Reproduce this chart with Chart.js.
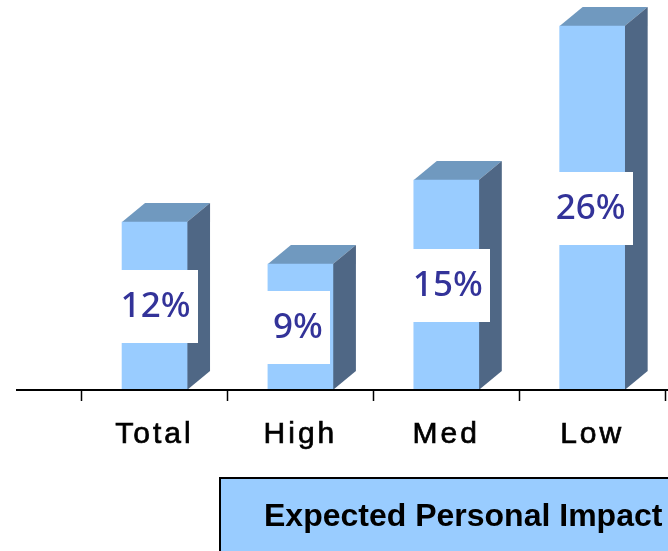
<!DOCTYPE html>
<html>
<head>
<meta charset="utf-8">
<script src="https://cdn.jsdelivr.net/npm/chart.js@4"></script>
<style>
    html, body { margin: 0; padding: 0; background: #fff; overflow: hidden; }
    canvas { display: block; }
</style>
</head>
<body>
<canvas id="impactChart" width="668" height="551"></canvas>
<script>
const categories = ['Total', 'High', 'Med', 'Low'];
const impactValues = [12, 9, 15, 26];
const boxTitle = 'Expected Personal Impact';

const frontColor = '#99ccff';
const topColor = '#7099bf';
const sideColor = '#4f6785';
const depthX = 23;
const depthY = 19;
// the labels don't sit exactly on the bar centres in the original
const labelShift = [1, -2.5, 1.5, -1.5];

function polygon(ctx, points, color) {
    ctx.fillStyle = color;
    ctx.beginPath();
    points.forEach((p, i) => i ? ctx.lineTo(p[0], p[1]) : ctx.moveTo(p[0], p[1]));
    ctx.closePath();
    ctx.fill();
}

// the top and side faces of each bar
const bar3d = {
    id: 'bar3d',
    beforeDatasetsDraw(chart) {
        const ctx = chart.ctx;
        chart.getDatasetMeta(0).data.forEach(bar => {
            const left = bar.x - bar.width / 2;
            const right = bar.x + bar.width / 2;
            polygon(ctx, [[left, bar.y], [left + depthX, bar.y - depthY], [right + depthX, bar.y - depthY], [right, bar.y]], topColor);
            polygon(ctx, [[right, bar.y], [right + depthX, bar.y - depthY], [right + depthX, bar.base - depthY], [right, bar.base]], sideColor);
        });
    }
};

// white label boxes, the long axis line and the box under the chart
const annotations = {
    id: 'annotations',
    beforeDraw(chart) {
        chart.ctx.letterSpacing = '3px';
    },
    afterDatasetsDraw(chart) {
        const ctx = chart.ctx;
        ctx.save();
        ctx.letterSpacing = '0px';
        ctx.font = '500 35px "Noto Sans"';
        ctx.textAlign = 'center';
        ctx.textBaseline = 'middle';
        chart.getDatasetMeta(0).data.forEach((bar, i) => {
            const text = impactValues[i] + '%';
            const half = ctx.measureText(text).width / 2 + 7;
            const x = bar.x + labelShift[i];
            const mid = (bar.y + bar.base) / 2;
            ctx.fillStyle = '#ffffff';
            ctx.fillRect(Math.round(x - half), Math.round(mid - 36.5), Math.round(half * 2), 73);
            ctx.fillStyle = '#333399';
            ctx.fillText(text, x, mid + 1);
        });
        ctx.restore();
    },
    afterDraw(chart) {
        const ctx = chart.ctx;
        const area = chart.chartArea;
        ctx.save();
        ctx.letterSpacing = '0px';
        ctx.strokeStyle = '#000000';
        ctx.lineWidth = 2;
        ctx.beginPath();
        ctx.moveTo(16, area.bottom);
        ctx.lineTo(668, area.bottom);
        ctx.stroke();

        ctx.fillStyle = frontColor;
        ctx.fillRect(220, 478, 450, 75);
        ctx.strokeRect(220, 478, 450, 75);
        ctx.fillStyle = '#000000';
        ctx.font = 'bold 32px "Liberation Sans"';
        ctx.textBaseline = 'middle';
        ctx.fillText(boxTitle, 264, 517);
        ctx.restore();
    }
};

const impactChart = new Chart(document.getElementById('impactChart'), {
    type: 'bar',
    data: {
        labels: categories,
        datasets: [{
            data: impactValues,
            backgroundColor: frontColor,
            borderWidth: 0,
            barThickness: 65
        }]
    },
    options: {
        responsive: false,
        animation: false,
        layout: { padding: { left: 81.6, right: 2.9, top: 12, bottom: 0 } },
        plugins: {
            legend: { display: false },
            tooltip: { enabled: false }
        },
        scales: {
            x: {
                afterFit: scale => { scale.height = 161; },
                border: { display: false },
                grid: { drawOnChartArea: false, color: '#000000', tickLength: 11, tickWidth: 1.5 },
                ticks: {
                    color: '#000000',
                    maxRotation: 0,
                    padding: 16,
                    textStrokeColor: '#000000',
                    textStrokeWidth: 0.7,
                    font: { family: '"Liberation Sans"', size: 30 }
                }
            },
            y: {
                display: false,
                min: 0,
                max: 27
            }
        }
    },
    plugins: [bar3d, annotations]
});
</script>
</body>
</html>
